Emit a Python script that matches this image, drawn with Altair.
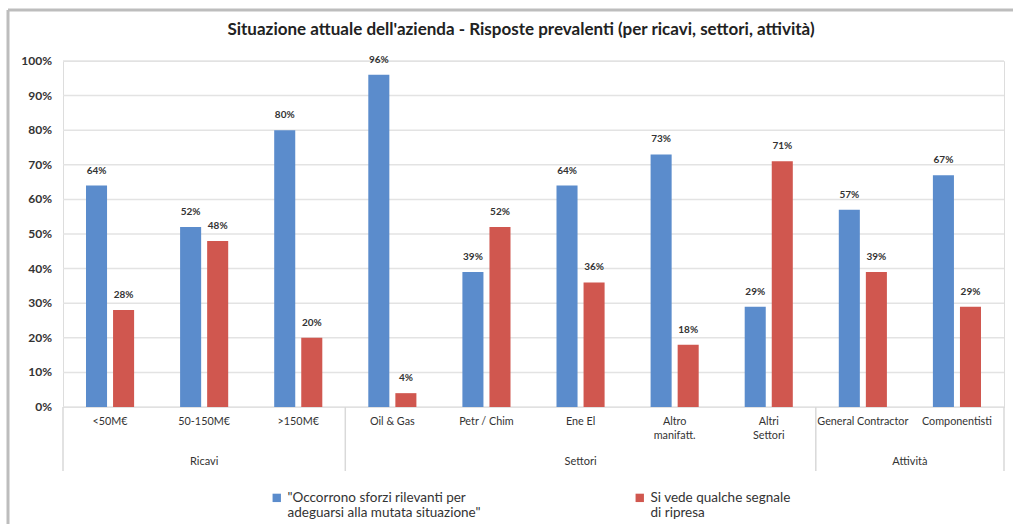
import altair as alt
import pandas as pd

categories = ["<50M€", "50-150M€", ">150M€", "Oil & Gas", "Petr / Chim", "Ene El",
              "Altro manifatt.", "Altri Settori", "General Contractor", "Componentisti"]
groups = ["Ricavi", "Ricavi", "Ricavi", "Settori", "Settori", "Settori", "Settori",
          "Settori", "Attività", "Attività"]
series_names = ['"Occorrono sforzi rilevanti per|adeguarsi alla mutata situazione"',
                "Si vede qualche segnale|di ripresa"]
blue_values = [64, 52, 80, 96, 39, 64, 73, 29, 57, 67]
red_values = [28, 48, 20, 4, 52, 36, 18, 71, 39, 29]
y_ticks = [0, 0.1, 0.2, 0.3, 0.4, 0.5, 0.6, 0.7, 0.8, 0.9, 1.0]
colors = ["#5b8ccc", "#d0574f"]
title_text = "Situazione attuale dell'azienda - Risposte prevalenti  (per ricavi, settori, attività)"

rows = []
for c, g, b, r in zip(categories, groups, blue_values, red_values):
    rows.append({"cat": c, "grp": g, "serie": series_names[0], "val": b / 100})
    rows.append({"cat": c, "grp": g, "serie": series_names[1], "val": r / 100})
df = pd.DataFrame(rows)
ticks_df = pd.DataFrame({"val": y_ticks})

FONT = "Lato"
TXT = "#333333"

xenc = alt.X("cat:N", sort=categories,
             scale=alt.Scale(paddingInner=0, paddingOuter=0),
             axis=alt.Axis(title=None, labelAngle=0, ticks=False, domain=True,
                           domainColor="#d9d9d9", labelPadding=8, labelFontSize=10.8,
                           labelColor=TXT, labelFont=FONT, labelLimit=0,
                           labelLineHeight=14,
                           labelExpr="(datum.label == 'Altro manifatt.' || datum.label == 'Altri Settori') ? split(datum.label, ' ') : datum.label"))

yscale = alt.Scale(domain=[0, 1], nice=False)
yenc = alt.Y("val:Q", scale=yscale, axis=None)

# gridlines and y labels drawn from the tick values through the y scale
grid = alt.Chart(ticks_df).mark_rule(color="#e3e3e3", strokeWidth=1.5).encode(
    y=yenc, x=alt.value(0), x2=alt.value(941))
ylabels = alt.Chart(ticks_df).mark_text(align="right", baseline="middle", fontSize=12,
                                        fontWeight="bold", color=TXT, font=FONT).encode(
    y=yenc, x=alt.value(-11), text=alt.Text("val:Q", format=".0%"))

base = alt.Chart(df)

bars = base.mark_bar().encode(
    x=xenc,
    xOffset=alt.XOffset("serie:N", sort=series_names,
                        scale=alt.Scale(paddingInner=0.222, paddingOuter=0.85)),
    y=yenc,
    color=alt.Color("serie:N", sort=series_names,
                    scale=alt.Scale(domain=series_names, range=colors),
                    legend=alt.Legend(title=None, orient="none", direction="horizontal",
                                      legendX=207, legendY=430, symbolType="square",
                                      symbolSize=70, symbolStrokeWidth=0,
                                      labelFontSize=13.5, labelColor=TXT, labelFont=FONT,
                                      labelLimit=0, columnPadding=152,
                                      labelExpr="split(datum.label, '|')")),
)

labels = base.mark_text(dy=-15, fontSize=10, fontWeight="bold", color=TXT, font=FONT).encode(
    x=alt.X("cat:N", sort=categories),
    xOffset=alt.XOffset("serie:N", sort=series_names),
    y=yenc,
    text=alt.Text("val:Q", format=".0%"),
)

group_starts = pd.DataFrame({"cat": ["<50M€", "Oil & Gas", "General Contractor"]})
group_end = pd.DataFrame({"cat": ["Componentisti"]})

sep1 = alt.Chart(group_starts).mark_rule(color="#d9d9d9", strokeWidth=1.5).encode(
    x=alt.X("cat:N", sort=categories, bandPosition=0),
    y=alt.value(346), y2=alt.value(410))
sep2 = alt.Chart(group_end).mark_rule(color="#d9d9d9", strokeWidth=1.5).encode(
    x=alt.X("cat:N", sort=categories, bandPosition=1),
    y=alt.value(346), y2=alt.value(410))

glab_a = pd.DataFrame({"cat": ["50-150M€", "Ene El"], "label": ["Ricavi", "Settori"]})
glab_b = pd.DataFrame({"cat": ["General Contractor"], "label": ["Attività"]})
gl1 = alt.Chart(glab_a).mark_text(fontSize=11, color=TXT, font=FONT).encode(
    x=alt.X("cat:N", sort=categories, bandPosition=0.5),
    y=alt.value(401), text="label:N")
gl2 = alt.Chart(glab_b).mark_text(fontSize=11, color=TXT, font=FONT).encode(
    x=alt.X("cat:N", sort=categories, bandPosition=1),
    y=alt.value(401), text="label:N")

title_df = pd.DataFrame({"t": [title_text]})
title = alt.Chart(title_df).mark_text(fontSize=17, fontWeight="bold", font=FONT,
                                      color="#222222").encode(
    x=alt.value(458), y=alt.value(-31), text="t:N")

frame_top = alt.Chart(group_end).mark_rule(color="#bdbdbd", strokeWidth=3).encode(
    x=alt.value(-55), x2=alt.value(960), y=alt.value(-51))
frame_left = alt.Chart(group_end).mark_rule(color="#bdbdbd", strokeWidth=3).encode(
    x=alt.value(-55), y=alt.value(-51), y2=alt.value(470))

chart = alt.layer(grid, ylabels, bars, labels, sep1, sep2, gl1, gl2, title,
                  frame_top, frame_left).properties(
    width=941, height=346,
    autosize=alt.AutoSizeParams(type="none"),
    padding={"left": 63, "top": 61, "right": 9, "bottom": 117},
).configure_view(stroke=None).configure(background="white")

chart.save("out.html", embed_options={"renderer": "svg", "actions": False})
